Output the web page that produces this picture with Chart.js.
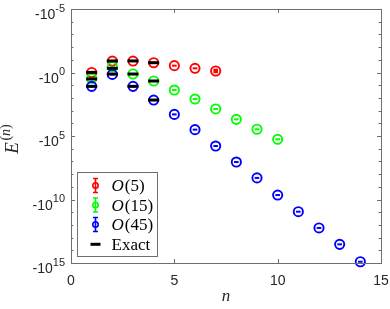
<!DOCTYPE html>
<html><head><meta charset="utf-8">
<script src="https://cdn.jsdelivr.net/npm/chart.js@4/dist/chart.umd.min.js"></script>
<style>html,body{margin:0;padding:0;background:#fff;}#wrap{width:390px;height:309px;position:relative;}</style>
</head><body><div id="wrap"><canvas id="c" width="390" height="309"></canvas></div>
<script>
// ---- data (y = log10|E^(n)|) ----
const nO5 = [1,2,3,4,5,6,7];
const logO5 = [0.0,-0.9,-0.9,-0.77,-0.54,-0.33,-0.12];
const nO15 = [1,2,3,4,5,6,7,8,9,10];
const logO15 = [0.47,-0.46,0.12,0.67,1.38,2.09,2.87,3.69,4.47,5.26];
const nO45 = [1,2,3,4,5,6,7,8,9,10,11,12,13,14];
const logO45 = [1.09,0.15,1.09,2.17,3.3,4.5,5.79,7.05,8.3,9.65,10.96,12.24,13.53,14.9];
const nExact = [1,2,3,4];
const exactO5 = [-0.01,-0.91,-0.91,-0.77];
const exactO15 = [0.51,-0.33,0.12,0.67];
const exactO45 = [1.09,0.12,1.09,2.17];
const xTicks = [0,5,10,15];
const yTickExps = [-5,0,5,10,15];
const seriesNames = ['O(5)','O(15)','O(45)','Exact'];
const colors = ['#ff0000','#00ff00','#0000ff','#000000'];

const pts = (xs, ys) => xs.map((x,i)=>({x:x, y:ys[i]}));
const exactPts = [].concat(pts(nExact,exactO5), pts(nExact,exactO15), pts(nExact,exactO45));

function circleDS(xs, ys, c, ord){
  return {data:pts(xs,ys), pointStyle:'circle', pointRadius:4.6, pointBorderWidth:1.9,
    borderColor:c, pointBorderColor:c, backgroundColor:'rgba(0,0,0,0)', pointBackgroundColor:'rgba(0,0,0,0)',
    showLine:false, clip:false, order:ord};
}
function dashDS(xs, ys, c, ord, bw){
  return {data:pts(xs,ys), pointStyle:'line', pointRadius:2.3, pointBorderWidth:bw||2,
    borderColor:c, pointBorderColor:c, showLine:false, clip:false, order:ord};
}

const axisPlugin = {
  id:'axisPlugin',
  afterDraw(chart){
    const ctx = chart.ctx, a = chart.chartArea, xs = chart.scales.x, ys = chart.scales.y;
    ctx.save();
    // box
    ctx.strokeStyle = '#6e6e6e'; ctx.lineWidth = 1;
    ctx.strokeRect(Math.round(a.left)+0.5, Math.round(a.top)+0.5, Math.round(a.right-a.left), Math.round(a.bottom-a.top));
    ctx.beginPath();
    xTicks.forEach(v=>{
      const px = Math.round(xs.getPixelForValue(v))+0.5;
      ctx.moveTo(px, a.bottom); ctx.lineTo(px, a.bottom-4);
      ctx.moveTo(px, a.top); ctx.lineTo(px, a.top+4);
    });
    for(let e=-5;e<=15;e++){
      const py = Math.round(ys.getPixelForValue(e))+0.5;
      const L = (e%5===0)?4:2.5;
      ctx.moveTo(a.left, py); ctx.lineTo(a.left+L, py);
      ctx.moveTo(a.right, py); ctx.lineTo(a.right-L, py);
    }
    ctx.stroke();
    // x tick labels
    ctx.fillStyle = '#262626';
    ctx.font = '14px "Liberation Sans", Arial, sans-serif';
    ctx.textAlign = 'center'; ctx.textBaseline = 'alphabetic';
    xTicks.forEach(v=>{ ctx.fillText(String(v), xs.getPixelForValue(v), a.bottom+22); });
    // y tick labels  -10^k
    yTickExps.forEach(k=>{
      const py = ys.getPixelForValue(k);
      ctx.font = '11px "Liberation Sans", Arial, sans-serif';
      const sup = String(k);
      const ws = ctx.measureText(sup).width;
      const right = a.left - 6;
      ctx.textAlign = 'left';
      ctx.fillText(sup, right - ws, py + 2.5);
      ctx.font = '14px "Liberation Sans", Arial, sans-serif';
      ctx.textAlign = 'right';
      ctx.fillText('-10', right - ws, py + 10);
    });
    // x axis title
    ctx.font = 'italic 17px "Liberation Serif", "DejaVu Serif", serif';
    ctx.textAlign = 'center';
    ctx.fillText('n', (a.left+a.right)/2, 301);
    // y axis title E^(n), rotated
    ctx.save();
    ctx.translate(18, 139);
    ctx.rotate(-Math.PI/2);
    ctx.textAlign = 'left';
    const fE = 'italic 19px "Liberation Serif", serif';
    const fP = '14px "Liberation Serif", serif';
    const fN = 'italic 14px "Liberation Serif", serif';
    ctx.font = fE; const wE = ctx.measureText('E').width;
    ctx.font = fP; const wP = ctx.measureText('(').width;
    ctx.font = fN; const wN = ctx.measureText('n').width;
    const total = wE + 1.5 + wP*2 + wN;
    let x0 = -total/2;
    ctx.font = fE; ctx.fillText('E', x0, 0); x0 += wE + 1.5;
    ctx.font = fP; ctx.fillText('(', x0, -8); x0 += wP;
    ctx.font = fN; ctx.fillText('n', x0, -8); x0 += wN;
    ctx.font = fP; ctx.fillText(')', x0, -8);
    ctx.restore();
    // legend
    const lx = 77.5, ly = 172.5, lw = 80, lh = 84;
    ctx.fillStyle = '#ffffff';
    ctx.strokeStyle = '#6e6e6e'; ctx.lineWidth = 1;
    ctx.fillRect(lx, ly, lw, lh); ctx.strokeRect(lx, ly, lw, lh);
    const rowY = [185.5, 205, 224.5, 244.3];
    const symX = 95.5, textX = 111.5;
    for(let i=0;i<4;i++){
      const y = rowY[i], c = colors[i];
      ctx.strokeStyle = c;
      if(i<3){
        ctx.lineWidth = 1.6;
        ctx.beginPath();
        ctx.moveTo(symX, y-7); ctx.lineTo(symX, y+7);
        ctx.moveTo(symX-2.5, y-7); ctx.lineTo(symX+2.5, y-7);
        ctx.moveTo(symX-2.5, y+7); ctx.lineTo(symX+2.5, y+7);
        ctx.stroke();
        ctx.beginPath(); ctx.arc(symX, y, 2.7, 0, Math.PI*2); ctx.stroke();
      } else {
        ctx.lineWidth = 3;
        ctx.beginPath(); ctx.moveTo(symX-5, y); ctx.lineTo(symX+5, y); ctx.stroke();
      }
      ctx.fillStyle = '#000';
      ctx.textAlign = 'left';
      const base = y + 5.8;
      const name = seriesNames[i];
      if(i<3){
        ctx.font = 'italic 17px "Liberation Serif", serif';
        ctx.fillText('O', textX, base);
        const wO = ctx.measureText('O').width;
        ctx.font = '17px "Liberation Serif", serif';
        ctx.fillText(name.slice(1), textX + wO + 1, base);
      } else {
        ctx.font = '17px "Liberation Serif", serif';
        ctx.fillText(name, textX, base);
      }
    }
    ctx.restore();
  }
};

new Chart(document.getElementById('c'), {
  type:'scatter',
  data:{datasets:[
    circleDS(nO5, logO5, colors[0], 6),
    circleDS(nO15, logO15, colors[1], 5),
    circleDS(nO45, logO45, colors[2], 4),
    dashDS(nO5, logO5, colors[0], 3, [2,2,2,2,2,2,4.5]),
    dashDS(nO15, logO15, colors[1], 3),
    dashDS(nO45, logO45, colors[2], 3),
    {data:exactPts, pointStyle:'line', pointRadius:5.5, pointBorderWidth:3, borderColor:'#000', pointBorderColor:'#000', showLine:false, clip:false, order:0}
  ]},
  options:{
    responsive:false, animation:false, devicePixelRatio:1,
    layout:{padding:{left:71, right:9, top:9, bottom:46}},
    plugins:{legend:{display:false}, tooltip:{enabled:false}},
    scales:{
      x:{type:'linear', min:0, max:15, display:false},
      y:{type:'linear', min:-5, max:15, reverse:true, display:false}
    }
  },
  plugins:[axisPlugin]
});
</script>
</body></html>
